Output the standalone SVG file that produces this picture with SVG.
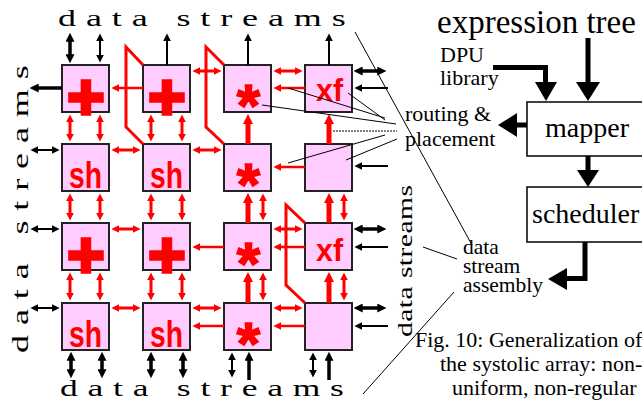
<svg xmlns="http://www.w3.org/2000/svg" width="642" height="400" viewBox="0 0 642 400">
<defs>
  <marker id="rh" viewBox="0 0 10 10" refX="3" refY="5" markerWidth="8" markerHeight="8" markerUnits="userSpaceOnUse" orient="auto-start-reverse"><path d="M0,0L10,5L0,10z" fill="#f00"/></marker>
  <marker id="rt" viewBox="0 0 10 10" refX="3" refY="5" markerWidth="10" markerHeight="10" markerUnits="userSpaceOnUse" orient="auto-start-reverse"><path d="M0,0L10,5L0,10z" fill="#f00"/></marker>
  <marker id="bh" viewBox="0 0 10 10" refX="3" refY="5" markerWidth="8" markerHeight="8" markerUnits="userSpaceOnUse" orient="auto-start-reverse"><path d="M0,0L10,5L0,10z" fill="#000"/></marker>
  <marker id="bt" viewBox="0 0 10 10" refX="3" refY="5" markerWidth="9" markerHeight="9" markerUnits="userSpaceOnUse" orient="auto-start-reverse"><path d="M0,0L10,5L0,10z" fill="#000"/></marker>
</defs>
<style>
  .cell rect { fill: #fcf; stroke: #222; stroke-width: 2; }
  .op { fill: #f00; font-family: "Liberation Sans", Arial, sans-serif; font-weight: bold; }
  .plus { font-size: 64px; stroke: #f00; stroke-width: 3.5; text-anchor: middle; }
  .star { font-size: 60px; stroke: #f00; stroke-width: 1.5; text-anchor: middle; }
  .sh { font-size: 36px; }
  .xf { font-size: 32px; }
  .serif { font-family: "Liberation Serif", "Times New Roman", serif; fill: #000; }
  .wide { font-size: 24px; letter-spacing: 6.6px; }
  .lbl { font-size: 22px; }
  .big { font-size: 28px; }
  .rd { stroke: #f00; stroke-width: 3; fill: none; marker-start: url(#rh); marker-end: url(#rh); }
  .rs { stroke: #f00; stroke-width: 2.5; fill: none; marker-end: url(#rh); }
  .rt { stroke: #f00; stroke-width: 5; fill: none; marker-end: url(#rt); }
  .route { stroke: #f00; stroke-width: 3; fill: none; stroke-linejoin: miter; }
  .bd { stroke: #000; stroke-width: 2; fill: none; marker-start: url(#bh); marker-end: url(#bh); }
  .bdk { stroke: #000; stroke-width: 3.5; fill: none; marker-start: url(#bt); marker-end: url(#bt); }
  .bs { stroke: #000; stroke-width: 2; fill: none; marker-end: url(#bh); }
  .bsk { stroke: #000; stroke-width: 3.5; fill: none; marker-end: url(#bt); }
  .lead { stroke: #000; stroke-width: 1; fill: none; }
  .flow { stroke: #000; stroke-width: 5; fill: none; }
  .box { fill: #fff; stroke: #000; stroke-width: 1.5; }
</style>

<!-- data stream labels around the array -->
<g id="label-top"><text class="serif wide" transform="translate(58 26) scale(1.5 1)">data streams</text></g>
<g id="label-bottom"><text class="serif wide" transform="translate(60 396) scale(1.48 1)">data streams</text></g>
<g id="label-left"><text class="serif wide" transform="translate(28 353) rotate(-90) scale(1.5 1)">data streams</text></g>
<g id="label-right"><text class="serif" font-size="22" letter-spacing="0.3" transform="translate(412 337) rotate(-90) scale(1.35 1)">data streams</text></g>

<!-- processing cells, 4 x 4 -->
<g id="c11" class="cell"><rect x="62" y="65" width="47" height="47"/><text class="op plus" x="86" y="119">+</text></g>
<g id="c12" class="cell"><rect x="143" y="65" width="47" height="47"/><text class="op plus" x="167" y="119">+</text></g>
<g id="c13" class="cell"><rect x="224" y="65" width="47" height="47"/><text class="op star" x="248.5" y="126">*</text></g>
<g id="c14" class="cell"><rect x="305" y="65" width="47" height="47"/><text class="op xf" x="316" y="101" textLength="27" lengthAdjust="spacingAndGlyphs">xf</text></g>

<g id="c21" class="cell"><rect x="62" y="144" width="47" height="47"/><text class="op sh" x="69" y="188" textLength="33" lengthAdjust="spacingAndGlyphs">sh</text></g>
<g id="c22" class="cell"><rect x="143" y="144" width="47" height="47"/><text class="op sh" x="150" y="188" textLength="33" lengthAdjust="spacingAndGlyphs">sh</text></g>
<g id="c23" class="cell"><rect x="224" y="144" width="47" height="47"/><text class="op star" x="248.5" y="205">*</text></g>
<g id="c24" class="cell"><rect x="305" y="144" width="47" height="47"/></g>

<g id="c31" class="cell"><rect x="62" y="223" width="47" height="47"/><text class="op plus" x="86" y="277">+</text></g>
<g id="c32" class="cell"><rect x="143" y="223" width="47" height="47"/><text class="op plus" x="167" y="277">+</text></g>
<g id="c33" class="cell"><rect x="224" y="223" width="47" height="47"/><text class="op star" x="248.5" y="284">*</text></g>
<g id="c34" class="cell"><rect x="305" y="223" width="47" height="47"/><text class="op xf" x="316" y="261" textLength="27" lengthAdjust="spacingAndGlyphs">xf</text></g>

<g id="c41" class="cell"><rect x="62" y="303" width="47" height="47"/><text class="op sh" x="69" y="347" textLength="33" lengthAdjust="spacingAndGlyphs">sh</text></g>
<g id="c42" class="cell"><rect x="143" y="303" width="47" height="47"/><text class="op sh" x="150" y="347" textLength="33" lengthAdjust="spacingAndGlyphs">sh</text></g>
<g id="c43" class="cell"><rect x="224" y="303" width="47" height="47"/><text class="op star" x="248.5" y="364">*</text></g>
<g id="c44" class="cell"><rect x="305" y="303" width="47" height="47"/></g>

<!-- tool flow: expression tree -> mapper -> scheduler -->
<g id="expr"><text class="serif" font-size="33" x="437" y="33">expression tree</text></g>
<g id="dpu"><text class="serif lbl" x="440" y="62">DPU</text><text class="serif lbl" x="440" y="85">library</text></g>
<g id="mapper"><rect class="box" x="527" y="102" width="130" height="54"/><text class="serif big" x="545" y="137">mapper</text></g>
<g id="scheduler"><rect class="box" x="527" y="187" width="130" height="55"/><text class="serif big" x="532" y="223">scheduler</text></g>
<g id="routing"><text class="serif lbl" x="405" y="121">routing &amp;</text><text class="serif lbl" x="405" y="146">placement</text></g>
<g id="assembly"><text class="serif" font-size="21.5" x="463" y="254">data</text><text class="serif" font-size="21.5" x="463" y="273">stream</text><text class="serif" font-size="21.5" x="463" y="292">assembly</text></g>
<g id="caption">
  <text class="serif lbl" x="415" y="347">Fig. 10: Generalization of</text>
  <text class="serif lbl" x="440" y="371">the systolic array: non-</text>
  <text class="serif lbl" x="452" y="395">uniform, non-regular</text>
</g>

<g id="connectors">
  <!-- red links between cells: horizontal -->
  <line class="rs" x1="143" y1="88" x2="117" y2="88"/>
  <line class="rd" x1="117" y1="150" x2="135" y2="150"/>
  <line class="rd" x1="117" y1="229" x2="135" y2="229"/>
  <line class="rd" x1="117" y1="308" x2="135" y2="308"/>

  <line class="rd" x1="198" y1="71" x2="216" y2="71"/>
  <line class="rd" x1="198" y1="150" x2="216" y2="150"/>
  <line class="rs" x1="224" y1="247" x2="198" y2="247"/>
  <line class="rd" x1="198" y1="308" x2="216" y2="308"/>
  <line class="rs" x1="224" y1="326" x2="198" y2="326"/>

  <line class="rd" x1="279" y1="71" x2="297" y2="71"/>
  <line class="rs" x1="305" y1="88" x2="279" y2="88"/>
  <line class="rs" x1="305" y1="167" x2="279" y2="167"/>
  <line class="rd" x1="279" y1="229" x2="297" y2="229"/>
  <line class="rs" x1="305" y1="247" x2="279" y2="247"/>
  <line class="rd" x1="279" y1="308" x2="297" y2="308"/>
  <line class="rs" x1="305" y1="326" x2="279" y2="326"/>

  <!-- red links between cells: vertical -->
  <line class="rd" x1="70" y1="120" x2="70" y2="136"/>
  <line class="rd" x1="100" y1="120" x2="100" y2="136"/>
  <line class="rd" x1="151" y1="120" x2="151" y2="136"/>
  <line class="rd" x1="182" y1="120" x2="182" y2="136"/>
  <line class="rt" x1="248" y1="144" x2="248" y2="121"/>
  <line class="rt" x1="329" y1="144" x2="329" y2="121"/>

  <line class="rd" x1="70" y1="199" x2="70" y2="215"/>
  <line class="rd" x1="100" y1="199" x2="100" y2="215"/>
  <line class="rd" x1="151" y1="199" x2="151" y2="215"/>
  <line class="rd" x1="182" y1="199" x2="182" y2="215"/>
  <line class="rt" x1="248" y1="223" x2="248" y2="200"/>
  <line class="rd" x1="263" y1="199" x2="263" y2="215"/>
  <line class="rt" x1="329" y1="223" x2="329" y2="200"/>
  <line class="rd" x1="344" y1="199" x2="344" y2="215"/>

  <line class="rd" x1="70" y1="278" x2="70" y2="295"/>
  <line class="rd" x1="100" y1="278" x2="100" y2="295"/>
  <line class="rd" x1="151" y1="278" x2="151" y2="295"/>
  <line class="rd" x1="182" y1="278" x2="182" y2="295"/>
  <line class="rt" x1="248" y1="303" x2="248" y2="279"/>
  <line class="rd" x1="263" y1="278" x2="263" y2="295"/>
  <line class="rt" x1="329" y1="303" x2="329" y2="279"/>
  <line class="rd" x1="344" y1="278" x2="344" y2="295"/>

  <!-- red routed wires bypassing cells -->
  <path class="route" d="M143,65 L126,47 V127 L143,144"/>
  <path class="route" d="M224,65 L206,47 V127 L224,144"/>
  <path class="route" d="M305,223 L286,205 V285 L305,303"/>

  <!-- black I/O data streams: top -->
  <line class="bdk" x1="70" y1="39" x2="70" y2="57"/>
  <line class="bd" x1="100" y1="39" x2="100" y2="57"/>
  <line class="bs" x1="167" y1="65" x2="167" y2="39"/>
  <line class="bs" x1="248" y1="65" x2="248" y2="39"/>
  <line class="bs" x1="329" y1="65" x2="329" y2="39"/>
  <!-- left -->
  <line class="bsk" x1="62" y1="88" x2="36" y2="88"/>
  <line class="bd" x1="36" y1="150" x2="54" y2="150"/>
  <line class="bd" x1="36" y1="229" x2="54" y2="229"/>
  <line class="bd" x1="36" y1="308" x2="54" y2="308"/>
  <!-- right -->
  <line class="bdk" x1="360" y1="71" x2="380" y2="71"/>
  <line class="bs" x1="388" y1="88" x2="360" y2="88"/>
  <line class="bs" x1="388" y1="166" x2="360" y2="166"/>
  <line class="bdk" x1="360" y1="229" x2="380" y2="229"/>
  <line class="bs" x1="388" y1="247" x2="360" y2="247"/>
  <line class="bdk" x1="360" y1="308" x2="380" y2="308"/>
  <line class="bs" x1="388" y1="326" x2="360" y2="326"/>
  <!-- bottom -->
  <line class="bdk" x1="71" y1="358" x2="71" y2="372"/>
  <line class="bdk" x1="102" y1="358" x2="102" y2="372"/>
  <line class="bdk" x1="151" y1="358" x2="151" y2="372"/>
  <line class="bdk" x1="183" y1="358" x2="183" y2="372"/>
  <line class="bd" x1="232" y1="358" x2="232" y2="372"/>
  <line class="bsk" x1="249" y1="380" x2="249" y2="358"/>
  <line class="bd" x1="313" y1="358" x2="313" y2="372"/>
  <line class="bsk" x1="329" y1="380" x2="329" y2="358"/>

  <!-- leader lines to annotations -->
  <line class="lead" x1="262" y1="105" x2="396" y2="124"/>
  <line class="lead" x1="288" y1="88" x2="385" y2="118"/>
  <line class="lead" x1="348" y1="93" x2="385" y2="120"/>
  <line class="lead" x1="333" y1="131" x2="397" y2="131" stroke-width="1.5" stroke-dasharray="2 1"/>
  <line class="lead" x1="288" y1="163" x2="385" y2="135"/>
  <line class="lead" x1="346" y1="160" x2="397" y2="139"/>
  <line class="lead" x1="355" y1="32" x2="472" y2="245"/>
  <line class="lead" x1="423" y1="247" x2="457" y2="259"/>
  <line class="lead" x1="454" y1="292" x2="363" y2="394"/>

  <!-- tool flow arrows -->
  <path class="flow" d="M493,67.5 H545.5 V84"/>
  <polygon points="535,82 557,82 546,101"/>
  <line class="flow" x1="588" y1="38" x2="588" y2="84"/>
  <polygon points="576,82 600,82 588,101"/>
  <line class="flow" x1="527" y1="125" x2="514" y2="125"/>
  <polygon points="517,113 517,137 498,125"/>
  <line class="flow" x1="588" y1="156" x2="588" y2="172"/>
  <polygon points="577,170 599,170 588,187"/>
  <path class="flow" d="M585,242 V278.5 H565"/>
  <polygon points="567,268 567,290 548,279"/>
</g>
</svg>
